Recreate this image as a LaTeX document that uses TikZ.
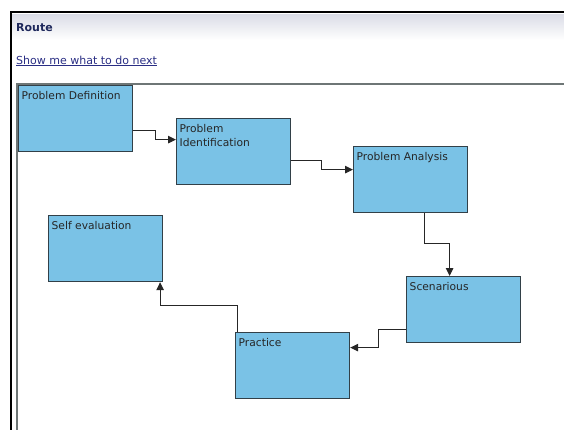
\documentclass[tikz,border=0pt]{standalone}
\usepackage{fontspec}
\setmainfont{DejaVu Sans}
\usetikzlibrary{arrows.meta}
\definecolor{stagefill}{RGB}{122,194,230}
\definecolor{stageline}{RGB}{50,64,72}
\definecolor{framegray}{RGB}{110,118,118}
\definecolor{headgray}{RGB}{218,220,230}
\definecolor{navy}{RGB}{30,40,92}
\definecolor{linkblue}{RGB}{42,46,132}
\tikzset{stage/.style = {shape=rectangle,draw=stageline,line width=1.2bp,fill=stagefill,minimum width=114bp,minimum height=66bp,anchor=north west,inner sep=0pt}}
\tikzset{tag/.style = {anchor=north west,inner xsep=3.5bp,inner ysep=6.5bp,align=left,text=black!85,font=\fontsize{10.7bp}{14bp}\selectfont}}
\tikzset{flow/.style = {-{Triangle[length=8bp,width=7.5bp]},draw=black!85,line width=1bp}}

\begin{document}
\begin{tikzpicture}[x=1bp,y=-1bp]
          \useasboundingbox (0,0) rectangle (564,430);
          % window frame and header
          \shade[top color=headgray,bottom color=white] (12,14) rectangle (564,40);
          \draw[line width=2.5bp] (564,12) -- (11,12) -- (11,430);
          \draw[framegray,line width=2bp] (564,83.5) -- (16.7,83.5) -- (16.7,430);
          \node[anchor=base west,inner sep=0pt,text=navy,font=\fontsize{11bp}{13bp}\selectfont\bfseries] (title) at (16,31) {Route};
          \node[anchor=base west,inner sep=0pt,text=linkblue,font=\fontsize{11bp}{13bp}\selectfont] (next) at (16,64) {\underline{Show me what to do next}};

          % stages
          \node[stage,label={[tag]north west:Problem Definition}] (pd) at (18,85) {};
          \node[stage,label={[tag]north west:Problem\\Identification}] (pi) at (176,118) {};
          \node[stage,label={[tag]north west:Problem Analysis}] (pa) at (353,146) {};
          \node[stage,label={[tag]north west:Scenarious}] (sc) at (406,276) {};
          \node[stage,label={[tag]north west:Practice}] (pr) at (235,332) {};
          \node[stage,label={[tag]north west:Self evaluation}] (se) at (48,215) {};

          \draw[flow] ([yshift=-12bp]pd.east) -- ++(22,0) |- ([yshift=12bp]pi.west);
          \draw[flow] ([yshift=-9bp]pi.east) -- ++(30,0) |- ([yshift=10bp]pa.west);
          \draw[flow] ([xshift=13.5bp]pa.south) -- ++(0,30) -| ([xshift=-14bp]sc.north);
          \draw[flow] ([yshift=-20bp]sc.west) -- ++(-28,0) |- ([yshift=18bp]pr.east);
          \draw[flow] ([xshift=-55bp]pr.north) -- ++(0,-27) -| ([xshift=54.5bp]se.south);
        \end{tikzpicture}
\end{document}
